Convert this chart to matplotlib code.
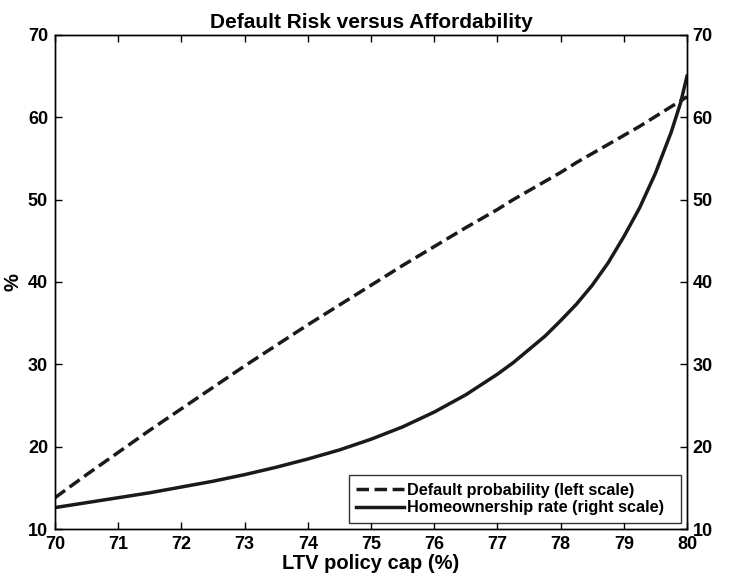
import matplotlib
matplotlib.use('Agg')
import matplotlib.pyplot as plt

plt.rcParams['font.family'] = ['Liberation Sans', 'DejaVu Sans']
plt.rcParams['font.weight'] = 'bold'

# LTV cap (%) and the two series
ltv = [70, 70.5, 71, 71.5, 72, 72.5, 73, 73.5, 74, 74.5, 75, 75.5, 76, 76.5,
       77, 77.25, 77.5, 77.75, 78, 78.25, 78.5, 78.75, 79, 79.25, 79.5, 79.75, 79.9, 80]
default_prob = [13.8, 16.6, 19.3, 22.0, 24.6, 27.2, 29.8, 32.3, 34.8, 37.2, 39.6,
                42.0, 44.3, 46.6, 48.8, 50.0, 51.1, 52.2, 53.3, 54.5, 55.6, 56.7,
                57.8, 58.9, 60.1, 61.3, 62.0, 62.5]
homeownership = [12.6, 13.2, 13.8, 14.4, 15.1, 15.8, 16.6, 17.5, 18.5, 19.6, 20.9,
                 22.4, 24.2, 26.3, 28.8, 30.2, 31.8, 33.4, 35.3, 37.3, 39.6, 42.3,
                 45.5, 49.0, 53.2, 58.2, 61.8, 65.0]

xticks = list(range(70, 81))
yticks = [10, 20, 30, 40, 50, 60, 70]

fig = plt.figure(figsize=(7.35, 5.81), dpi=100)
ax = fig.add_axes([0.0748, 0.0895, 0.8599, 0.8503])
ax2 = ax.twinx()

l1, = ax.plot(ltv, default_prob, color='#1a1a1a', lw=2.5, ls=(0, (3.6, 1.6)),
              label='Default probability (left scale)  ')
l2, = ax2.plot(ltv, homeownership, color='#1a1a1a', lw=2.5,
               label='Homeownership rate (right scale)  ')

for a in (ax, ax2):
    a.set_xlim(70, 80)
    a.set_ylim(10, 70)
    a.set_yticks(yticks)
    a.tick_params(direction='in', length=5, width=1, labelsize=13)
    for s in a.spines.values():
        s.set_linewidth(1)
ax.set_xticks(xticks)
ax.tick_params(axis='x', top=True, pad=5)
ax.tick_params(axis='y', pad=5)
ax2.tick_params(axis='y', pad=4)

for lab in ax.get_xticklabels() + ax.get_yticklabels() + ax2.get_yticklabels():
    lab.set_fontweight('bold')

ax.set_xlabel('LTV policy cap (%)', fontsize=14.5, fontweight='bold', labelpad=1)
ax.set_ylabel('%', fontsize=14.5, fontweight='bold', labelpad=4)
ax.set_title('Default Risk versus Affordability', fontsize=15, fontweight='bold', pad=5)

leg = ax2.legend(handles=[l1, l2], loc='lower right',
                 prop={'weight': 'bold', 'size': 11.7}, handlelength=2.95,
                 handletextpad=0.2, borderaxespad=0.4, fancybox=False,
                 frameon=True, borderpad=0.45, labelspacing=0.15)
leg.get_frame().set_edgecolor('black')
leg.get_frame().set_linewidth(1)

fig.savefig('out.png', dpi=100)
